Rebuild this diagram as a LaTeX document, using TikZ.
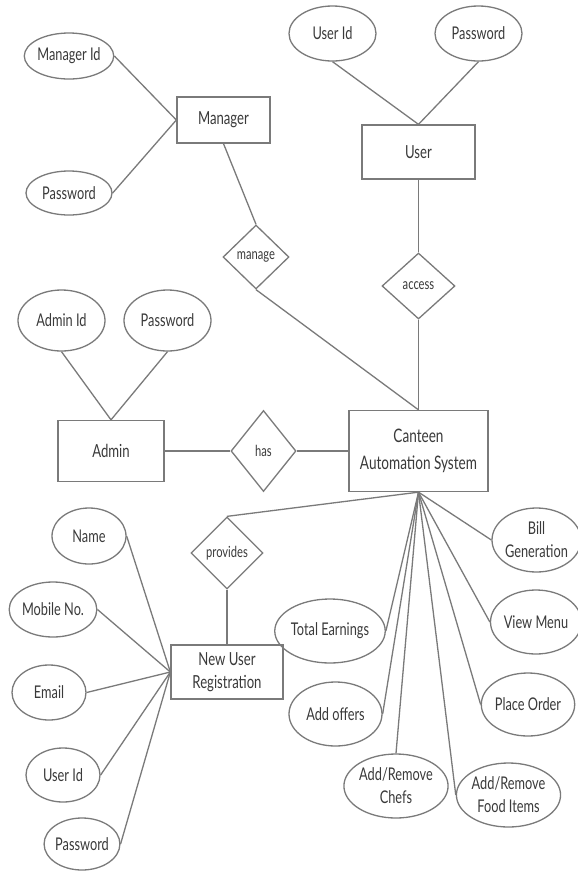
\documentclass[tikz,border=0pt]{standalone}
\usepackage{fontspec}
\setmainfont{Lato}[FakeStretch=0.73]
\usetikzlibrary{shapes.geometric}
\definecolor{ln}{HTML}{7A7A7A}
\definecolor{tx}{HTML}{3A3A3A}
\tikzset{
 base/.style={draw=ln, line width=1.3pt, text=tx, inner sep=0pt, align=center},
 attr/.style={base, ellipse, font=\fontsize{17.5}{23}\selectfont},
 ent/.style={base, rectangle, font=\fontsize{18}{23}\selectfont},
 rel/.style={base, diamond, font=\fontsize{15.3}{17}\selectfont},
 conn/.style={draw=ln, line width=1.3pt},
 sz/.style 2 args={minimum width=#1pt, minimum height=#2pt}
}
\begin{document}
\begin{tikzpicture}[x=1pt,y=-1pt]
\useasboundingbox[fill=white] (0,0) rectangle (578,871);
% top left: manager
\node[attr, sz={86}{46}] (mid) at (69,56) {Manager Id};
\node[attr, sz={86}{44}] (mpw) at (69,193) {Password};
\node[ent, sz={93}{46}] (mgr) at (223.5,120) {Manager};
\node[rel, sz={66}{64}] (manage) at (256,257) {manage};
% top right: user
\node[attr, sz={87}{55}] (uid) at (332.5,33.5) {User Id};
\node[attr, sz={87}{55}] (upw) at (478.5,33.5) {Password};
\node[ent, sz={113}{54}] (user) at (418.5,152) {User};
\node[rel, sz={73}{66}] (access) at (418.5,286) {access};
% middle: admin
\node[attr, sz={87}{61}] (aid) at (61.5,320.5) {Admin Id};
\node[attr, sz={87}{61}] (apw) at (167.5,320.5) {Password};
\node[ent, sz={106}{61}] (admin) at (111,451) {Admin};
\node[rel, sz={65}{81}] (has) at (263.5,451) {has};
\node[ent, sz={139}{81}, font=\fontsize{18.6}{27}\selectfont] (cas) at (418.5,451) {Canteen\\Automation System};
% bottom left: registration
\node[attr, sz={74}{56}] (name) at (89,536) {Name};
\node[attr, sz={82}{55}] (mob) at (53,609.5) {Mobile No.};
\node[attr, sz={74}{55}] (email) at (49,692.5) {Email};
\node[attr, sz={74}{54}] (nuid) at (63,775) {User Id};
\node[attr, sz={72}{52}] (npw) at (82,844) {Password};
\node[ent, sz={112}{54}] (nur) at (227,672) {New User\\Registration};
\node[rel, sz={72}{72}] (prov) at (227,553) {provides};
% bottom right: features
\node[attr, sz={83}{64}] (bill) at (536.5,540) {Bill\\Generation};
\node[attr, sz={84}{64}] (view) at (536,622) {View Menu};
\node[attr, sz={92}{63}] (place) at (528,704.5) {Place Order};
\node[attr, sz={93}{64}] (food) at (508.5,795) {Add/Remove\\Food Items};
\node[attr, sz={94}{64}] (chefs) at (396,786) {Add/Remove\\Chefs};
\node[attr, sz={93}{64}] (offers) at (335.5,714) {Add offers};
\node[attr, sz={94}{64}] (total) at (330,631) {Total Earnings};
% connectors
\draw[conn] (mid.east) -- (mgr.west);
\draw[conn] (mpw.east) -- (mgr.west);
\draw[conn] (mgr.south) -- (manage.north);
\draw[conn] (manage.south) -- (cas.north);
\draw[conn] (uid.south) -- (user.north);
\draw[conn] (upw.south) -- (user.north);
\draw[conn] (user.south) -- (access.north);
\draw[conn] (access.south) -- (cas.north);
\draw[conn] (aid.south) -- (admin.north);
\draw[conn] (apw.south) -- (admin.north);
\draw[conn] (admin.east) -- (has.west);
\draw[conn] (has.east) -- (cas.west);
\draw[conn] (name.east) -- (nur.west);
\draw[conn] (mob.east) -- (nur.west);
\draw[conn] (email.east) -- (nur.west);
\draw[conn] (nuid.east) -- (nur.west);
\draw[conn] (npw.east) -- (nur.west);
\draw[conn] (prov.south) -- (nur.north);
\draw[conn] (prov.north) -- (cas.south);
\draw[conn] (cas.south) -- (bill.west);
\draw[conn] (cas.south) -- (view.west);
\draw[conn] (cas.south) -- (place.west);
\draw[conn] (cas.south) -- (food.west);
\draw[conn] (cas.south) -- (chefs.north);
\draw[conn] (cas.south) -- (offers.east);
\draw[conn] (cas.south) -- (total.east);
\end{tikzpicture}
\end{document}
